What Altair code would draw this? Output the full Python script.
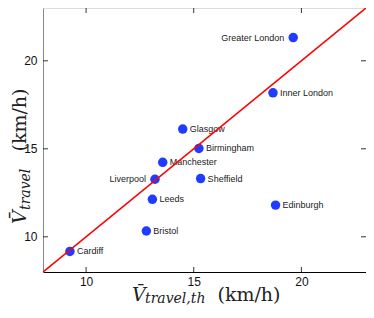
import altair as alt
import pandas as pd

cities = ["Greater London", "Inner London", "Glasgow", "Birmingham", "Manchester",
          "Liverpool", "Sheffield", "Leeds", "Edinburgh", "Bristol", "Cardiff"]
v_travel_th = [19.62, 18.68, 14.49, 15.24, 13.56, 13.20, 15.32, 13.08, 18.80, 12.80, 9.25]
v_travel = [21.32, 18.18, 16.12, 15.02, 14.23, 13.27, 13.31, 12.13, 11.80, 10.33, 9.17]
left_labeled = ["Greater London", "Liverpool"]
line_ends = [8, 23]
tick_values = [10, 15, 20]

W, H = 323, 264
FS = "DejaVu Serif"

df = pd.DataFrame({
    "city": cities, "x": v_travel_th, "y": v_travel,
    "side": ["left" if c in left_labeled else "right" for c in cities],
})
line_df = pd.DataFrame({"x": line_ends, "y": line_ends})
tick_df = pd.DataFrame({"v": tick_values})

xs = alt.Scale(domain=[8, 23], nice=False, zero=False)
ys = alt.Scale(domain=[8, 23], nice=False, zero=False)

base = alt.Chart(df)
points = base.mark_circle(size=90, color="#1f3cff", opacity=1).encode(
    x=alt.X("x:Q", scale=xs, axis=alt.Axis(values=tick_values, title=None, ticks=False,
            domainColor="#000000", domainWidth=1.2, grid=False, labelFont="Liberation Sans",
            labelFontSize=12, labelColor="#111", labelPadding=4)),
    y=alt.Y("y:Q", scale=ys, axis=alt.Axis(values=tick_values, title=None, ticks=False,
            domainColor="#888888", grid=False, labelFont="Liberation Sans",
            labelFontSize=12, labelColor="#111", labelPadding=6)),
)
labels_r = base.transform_filter(alt.datum.side == "right").mark_text(
    align="left", baseline="middle", dx=7, font="Liberation Sans", fontSize=9, color="#222"
).encode(x=alt.X("x:Q", scale=xs), y=alt.Y("y:Q", scale=ys), text="city:N")
labels_l = base.transform_filter(alt.datum.side == "left").mark_text(
    align="right", baseline="middle", dx=-9, font="Liberation Sans", fontSize=9, color="#222"
).encode(x=alt.X("x:Q", scale=xs), y=alt.Y("y:Q", scale=ys), text="city:N")

line = alt.Chart(line_df).mark_line(color="#ff0000", strokeWidth=1.6, clip=True).encode(
    x=alt.X("x:Q", scale=xs), y=alt.Y("y:Q", scale=ys))

tc = "#333333"
tb = alt.Chart(tick_df).mark_rule(color=tc, strokeWidth=1).encode(
    x=alt.X("v:Q", scale=xs), y=alt.value(H), y2=alt.value(H - 5))
tt = alt.Chart(tick_df).mark_rule(color=tc, strokeWidth=1).encode(
    x=alt.X("v:Q", scale=xs), y=alt.value(0), y2=alt.value(5))
tl = alt.Chart(tick_df).mark_rule(color=tc, strokeWidth=1).encode(
    y=alt.Y("v:Q", scale=ys), x=alt.value(0), x2=alt.value(5))
tr = alt.Chart(tick_df).mark_rule(color=tc, strokeWidth=1).encode(
    y=alt.Y("v:Q", scale=ys), x=alt.value(W), x2=alt.value(W - 5))


def piece(txt, x, y, size, style, align="left", angle=0):
    kw = dict(align=align, baseline="alphabetic", font=FS, fontSize=size,
              fontStyle=style, color="#222")
    if angle:
        kw["angle"] = angle
    return alt.Chart(pd.DataFrame({"t": [txt]})).mark_text(**kw).encode(
        text="t:N", x=alt.value(x), y=alt.value(y))

titles = [
    piece("V\u0304", 89, 293, 19, "italic"),
    piece("travel,th", 102, 295, 14, "italic"),
    piece("(km/h)", 206, 293, 19, "normal", align="center"),
    piece("V\u0304", -17, 216, 19, "italic", angle=270),
    piece("travel", -13, 202, 14, "italic", angle=270),
    piece("(km/h)", -17, 112, 19, "normal", align="center", angle=270),
]

chart = alt.layer(points, labels_r, labels_l, line, tb, tt, tl, tr, *titles).properties(
    width=W, height=H,
    autosize=alt.AutoSizeParams(type="none"),
    padding={"left": 35, "top": 0, "right": 0, "bottom": 35},
).configure_view(stroke="#888888", strokeWidth=1.2).configure(background="white")

chart.save("out.html", embed_options={"renderer": "svg", "actions": False})
